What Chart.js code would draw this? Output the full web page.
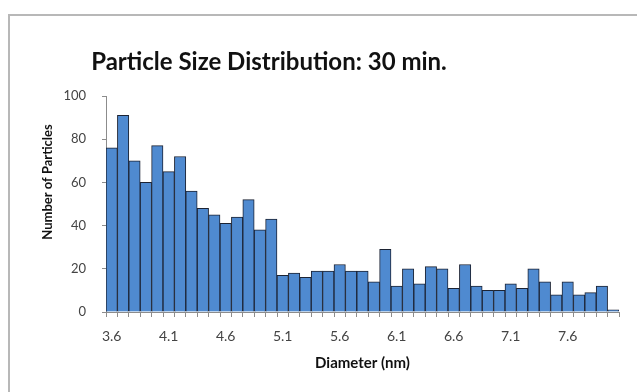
<!DOCTYPE html>
<html>
<head>
<meta charset="utf-8">
<script src="https://cdn.jsdelivr.net/npm/chart.js"></script>
<style>
  html, body { margin: 0; padding: 0; background: #fff; }
  #wrap { position: relative; width: 637px; height: 392px; }
  #frame { position: absolute; left: 8px; top: 14px; right: -4px; bottom: -4px;
           border-left: 2px solid #b8b8b8; border-top: 2px solid #b8b8b8; }
  canvas { position: absolute; left: 0; top: 0; }
</style>
</head>
<body>
<div id="wrap">
  <div id="frame"></div>
  <canvas id="sizeChart" width="637" height="392"></canvas>
</div>
<script>
// diameters (nm), one bin per 0.1 nm
const diameters = ['3.6','3.7','3.8','3.9','4.0','4.1','4.2','4.3','4.4','4.5',
  '4.6','4.7','4.8','4.9','5.0','5.1','5.2','5.3','5.4','5.5',
  '5.6','5.7','5.8','5.9','6.0','6.1','6.2','6.3','6.4','6.5',
  '6.6','6.7','6.8','6.9','7.0','7.1','7.2','7.3','7.4','7.5',
  '7.6','7.7','7.8','7.9','8.0'];
const counts = [76, 91, 70, 60, 77, 65, 72, 56, 48, 45,
  41, 44, 52, 38, 43, 17, 18, 16, 19, 19,
  22, 19, 19, 14, 29, 12, 20, 13, 21, 20,
  11, 22, 12, 10, 10, 13, 11, 20, 14, 8,
  14, 8, 9, 12, 1];
const yTicks = [0, 20, 40, 60, 80, 100];

const FONT = 'Lato, "Open Sans", sans-serif';

// titres dessinés à la main (positions comme dans Excel)
const titlePlugin = {
  id: 'excelTitles',
  afterDraw(chart) {
    const c = chart.ctx;
    c.save();
    c.fillStyle = '#111';
    c.textAlign = 'center';
    c.textBaseline = 'middle';
    c.font = 'bold 24px ' + FONT;
    c.fillText('Particle Size Distribution: 30 min.', 269, 62);
    c.font = 'bold 15px ' + FONT;
    const a = chart.chartArea;
    c.fillText('Diameter (nm)', (a.left + a.right) / 2, 363);
    c.translate(48, 182);
    c.rotate(-Math.PI / 2);
    c.font = 'bold 13px ' + FONT;
    c.fillText('Number of Particles', 0, 0);
    c.restore();
  }
};

const ctx = document.getElementById('sizeChart');
new Chart(ctx, {
  type: 'bar',
  data: {
    labels: diameters,
    datasets: [{
      data: counts,
      backgroundColor: '#4f8ad0',
      borderColor: '#1c2333',
      borderWidth: 1,
      barPercentage: 1,
      categoryPercentage: 1
    }]
  },
  options: {
    responsive: false,
    animation: false,
    layout: { padding: { top: 96, right: 18, left: 0, bottom: 0 } },
    plugins: { legend: { display: false }, tooltip: { enabled: false } },
    scales: {
      x: {
        grid: { offset: true, drawOnChartArea: false, color: '#8c8c8c', tickLength: 5 },
        border: { color: '#8c8c8c' },
        ticks: {
          autoSkip: false, maxRotation: 0, color: '#444', padding: 11,
          font: { family: FONT, size: 14 },
          callback: function(value, index) {
            return index % 5 === 0 ? diameters[index] : '';
          }
        },
        afterFit: function(scale) { scale.height = 80; }
      },
      y: {
        min: 0, max: 100,
        afterBuildTicks: function(scale) { scale.ticks = yTicks.map(v => ({ value: v })); },
        grid: { drawOnChartArea: false, color: '#8c8c8c', tickLength: 4 },
        border: { color: '#8c8c8c' },
        ticks: { color: '#444', padding: 16, font: { family: FONT, size: 13 } },
        afterFit: function(scale) { scale.width = 106; }
      }
    }
  },
  plugins: [titlePlugin]
});
</script>
</body>
</html>
